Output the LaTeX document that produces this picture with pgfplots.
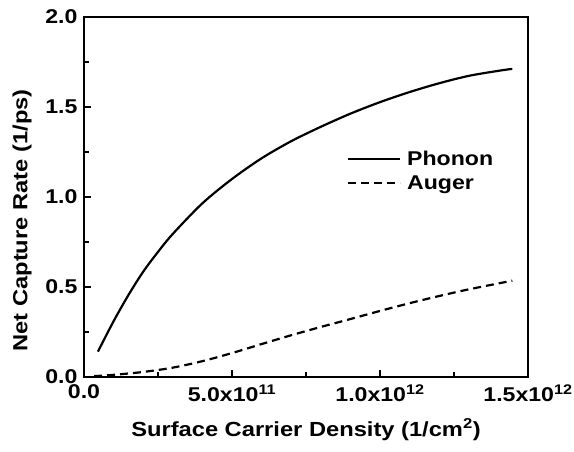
\documentclass[border=0pt]{standalone}
\usepackage{fontspec}
\setmainfont{Liberation Sans}[FakeStretch=1.16]
\usepackage{pgfplots}
\pgfplotsset{compat=1.18}
\begin{document}
\begin{tikzpicture}
\path[use as bounding box] (-84bp,-75bp) rectangle (490bp,377bp);
\begin{axis}[
  scale only axis,
  width=444bp, height=360bp,
  xmin=0, xmax=1.5e12, ymin=0, ymax=2.0,
  scaled x ticks=false, scaled y ticks=false,
  axis line style={line width=1.6pt},
  tick align=inside,
  xtick pos=bottom, ytick pos=left,
  xtick={0,5e11,1e12,1.5e12},
  xticklabels={0.0, {5.0x10\textsuperscript{11}}, {1.0x10\textsuperscript{12}}, {1.5x10\textsuperscript{12}}},
  ytick={0,0.5,1.0,1.5,2.0},
  yticklabels={0.0,0.5,1.0,1.5,2.0},
  minor x tick num=1, minor y tick num=1,
  major tick length=7bp, minor tick length=5bp,
  every tick/.style={line width=1.3pt, black},
  tick label style={font=\fontsize{20}{22}\selectfont\bfseries},
  xticklabel style={yshift=-4bp},
  yticklabel style={xshift=-3bp},
  label style={font=\fontsize{20.5}{22}\selectfont\bfseries},
  xlabel={Surface Carrier Density (1/cm\textsuperscript{2})},
  ylabel={Net Capture Rate (1/ps)},
  xlabel style={yshift=-10bp},
  ylabel style={at={(ticklabel cs:0.435)}, yshift=7bp},
  legend style={at={(axis description cs:0.585,0.64)}, anchor=north west, draw=none, fill=none,
    font=\fontsize{20}{22}\selectfont\bfseries, row sep=5bp},
  legend cell align=left,
  legend image code/.code={\draw[#1] (0bp,0bp) -- (52bp,0bp); \path (56bp,0bp);},
]
\addplot[black, line width=2.2pt, smooth] coordinates {
(4.7e10,0.141) (1.0e11,0.310) (1.5e11,0.455) (2.0e11,0.585) (2.5e11,0.695)
(3.0e11,0.795) (4.0e11,0.965) (5.0e11,1.100) (6.0e11,1.215) (7.0e11,1.310)
(8.0e11,1.390) (9.0e11,1.463) (1.0e12,1.527) (1.1e12,1.583) (1.2e12,1.632)
(1.3e12,1.673) (1.4e12,1.701) (1.447e12,1.712)
};
\addlegendentry{Phonon}
\addplot[black, line width=2.2pt, dash pattern=on 8bp off 5bp, smooth] coordinates {
(3.4e10,0.005) (1.0e11,0.012) (2.0e11,0.028) (3.0e11,0.052) (4.0e11,0.088)
(5.0e11,0.133) (6.0e11,0.183) (7.0e11,0.232) (8.0e11,0.278) (9.0e11,0.322)
(1.0e12,0.367) (1.1e12,0.410) (1.2e12,0.450) (1.3e12,0.487) (1.447e12,0.535)
};
\addlegendentry{Auger}
\end{axis}
\end{tikzpicture}
\end{document}
